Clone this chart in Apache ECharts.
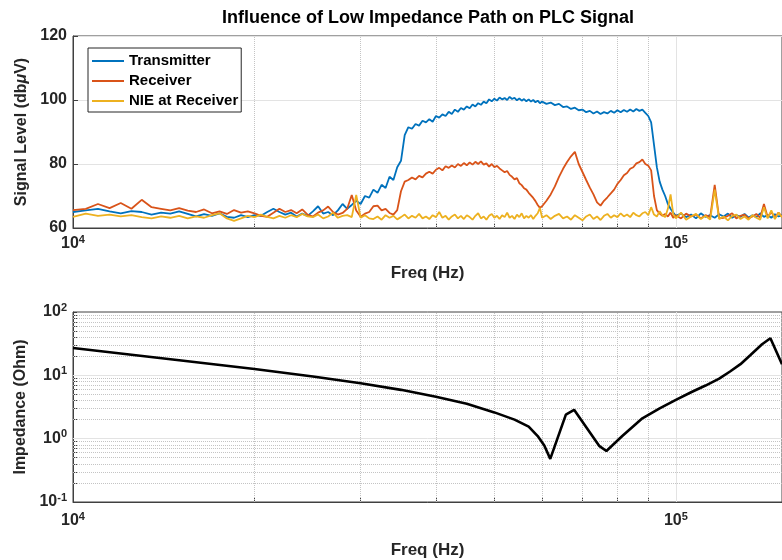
<!DOCTYPE html>
<html><head><meta charset="utf-8">
<script src="https://cdn.jsdelivr.net/npm/echarts@6/dist/echarts.min.js"></script>
<style>html,body{margin:0;padding:0;background:#fff}#c{width:782px;height:560px}</style>
</head><body><div id="c"></div>
<script>
// ---- data ----
const freq = [
  10000,10500,11000,11500,12000,12500,13000,13500,14000,14500,
  15000,15500,16000,16500,17000,17500,18000,18500,19000,19500,
  20000,20500,21000,21500,22000,22500,23000,23500,24000,24500,
  25000,25500,26000,26500,27000,27500,28000,28500,29000,29500,
  30000,30500,31000,31500,32000,32500,33000,33500,34000,34500,
  35000,35500,36000,36500,37000,37500,38000,38500,39000,39500,
  40000,40500,41000,41500,42000,42500,43000,43500,44000,44500,
  45000,45500,46000,46500,47000,47500,48000,48500,49000,49500,
  50000,50500,51000,51500,52000,52500,53000,53500,54000,54500,
  55000,55500,56000,56500,57000,57500,58000,58500,59000,59500,
  60000,61000,62000,63000,64000,65000,66000,67000,68000,69000,
  70000,71000,72000,73000,74000,75000,76000,77000,78000,79000,
  80000,81000,82000,83000,84000,85000,86000,87000,88000,89000,
  90000,91000,92000,93000,94000,95000,96000,97000,98000,99000,
  100000,102000,104000,106000,108000,110000,112000,114000,116000,118000,
  120000,122000,124000,126000,128000,130000,132000,134000,136000,138000,
  140000,142000,144000,146000,148000,150000
];
const transmitter = [
  65.0,65.5,66.0,65.2,64.6,65.3,65.0,64.2,64.8,64.5,
  65.2,64.4,63.6,64.3,63.8,64.6,63.5,63.2,64.0,63.4,
  64.0,63.8,65.0,66.0,65.0,64.2,64.8,63.6,64.5,63.8,
  65.2,66.8,64.5,65.0,64.0,65.5,67.5,66.0,67.2,68.5,
  67.5,70.0,69.5,72.0,71.0,73.5,72.5,76.0,75.0,79.0,
  81.0,89.0,91.5,91.0,92.5,92.0,93.5,93.0,94.0,93.2,
  95.0,94.5,95.5,95.0,96.3,95.6,97.0,96.3,97.5,97.0,
  98.0,97.4,98.6,98.0,99.0,98.5,99.5,99.0,100.2,99.6,
  100.4,99.8,100.8,100.2,100.6,100.0,101.0,100.3,100.7,99.9,
  100.5,99.8,100.3,99.6,100.2,99.5,100.0,99.3,99.8,99.0,
  99.5,98.8,99.2,98.4,98.8,97.8,98.0,97.2,97.6,96.8,
  97.0,96.2,96.6,95.8,96.4,95.6,96.2,95.8,96.6,96.0,
  96.8,96.2,96.9,96.3,97.0,96.4,97.2,96.6,97.0,96.0,
  95.0,93.0,86.0,79.0,74.5,72.0,70.0,67.5,66.0,64.8,
  63.8,64.5,63.4,64.2,63.0,64.6,63.5,64.0,63.2,64.3,
  63.6,64.5,63.2,64.0,63.5,64.4,63.3,64.0,63.4,64.6,
  63.5,64.0,63.2,64.3,63.6,64.0
];
const receiver = [
  65.6,66.0,67.5,66.2,67.8,66.0,68.8,66.5,66.0,65.5,
  66.2,65.4,65.0,65.8,64.6,65.2,64.4,65.6,64.8,65.2,
  64.6,63.8,63.5,64.8,66.0,65.0,65.6,64.6,65.8,64.2,
  63.6,64.8,65.5,66.7,65.0,64.2,64.7,66.0,70.3,65.5,
  63.5,64.5,65.0,66.8,67.0,65.5,66.0,64.7,64.2,65.6,
  71.5,74.5,75.0,75.8,75.2,76.3,75.8,77.0,77.6,77.0,
  78.2,78.8,78.0,79.3,78.8,79.5,78.9,80.0,79.4,80.3,
  79.6,80.5,79.8,80.7,80.0,80.8,79.8,80.2,79.2,80.0,
  79.0,79.4,78.6,78.0,77.4,77.8,76.6,76.0,75.2,75.6,
  74.0,73.4,72.4,72.0,71.0,70.2,69.4,68.4,67.2,66.3,
  66.8,68.5,70.5,73.0,76.0,78.5,80.6,82.4,83.8,80.0,
  77.5,75.0,72.6,70.5,68.0,67.0,68.5,69.6,70.8,72.0,
  73.8,75.0,76.5,77.2,78.5,79.0,80.2,80.6,81.4,80.0,
  79.5,78.0,70.0,65.6,64.5,63.8,64.4,63.6,64.8,63.2,
  64.0,63.0,64.5,63.6,64.2,63.0,64.0,63.4,73.5,63.0,
  63.2,63.8,64.6,63.0,63.8,64.2,63.0,63.6,64.4,63.2,
  67.5,63.4,65.0,63.3,64.8,63.5
];
const nie = [
  63.5,64.5,63.8,64.2,63.6,64.0,63.4,63.0,63.6,63.2,
  63.8,63.0,63.6,63.2,64.0,64.6,63.0,62.2,63.0,63.8,
  63.4,64.2,63.5,63.0,63.8,63.2,64.0,63.4,64.4,63.6,
  63.4,64.2,63.0,63.6,64.8,63.2,63.8,64.0,63.4,70.3,
  63.2,64.0,63.0,62.8,63.6,62.6,64.0,63.2,63.8,62.7,
  63.4,64.2,63.0,63.8,63.2,64.4,63.0,63.6,62.8,64.0,
  63.4,65.0,63.2,63.8,62.6,63.6,64.2,63.0,63.8,62.8,
  64.0,63.4,62.6,63.8,64.6,63.0,63.6,62.6,63.8,64.4,
  63.2,63.8,62.8,64.0,63.4,64.8,63.2,63.8,62.8,64.2,
  63.4,64.6,63.0,63.8,63.2,64.0,62.8,63.8,64.6,66.3,
  63.2,64.0,62.8,63.8,64.4,63.0,63.6,62.6,64.0,63.2,
  62.4,63.6,64.2,62.8,63.6,62.5,63.8,64.4,63.2,64.0,
  63.4,64.6,63.6,64.2,63.4,64.8,64.0,63.6,64.6,65.0,
  64.0,66.5,64.2,63.6,65.2,64.0,63.4,66.0,70.5,64.4,
  63.0,64.8,62.6,63.6,64.4,62.8,63.8,62.6,72.0,62.8,
  63.6,62.4,63.8,64.2,62.8,63.6,62.6,64.0,63.2,62.6,
  66.5,63.0,65.5,62.8,64.8,63.4
];
const impFreq = [10000,15000,20000,25000,30000,35000,40000,45000,50000,54000,57000,59000,60500,61900,65700,67800,74600,76700,81500,88000,94000,100000,106000,112000,118000,123000,128000,133000,139000,143500,150000];
const impedance = [27,17.3,12.6,9.6,7.5,5.9,4.6,3.55,2.6,2.0,1.55,1.1,0.78,0.48,2.4,2.85,0.77,0.64,1.1,2.1,3.0,4.1,5.4,6.9,8.9,11.5,15,21,31,38.5,15];

const seriesNames = ['Transmitter','Receiver','NIE at Receiver'];
const titleText = 'Influence of Low Impedance Path on PLC Signal';
const xTickValues = [10000,20000,30000,40000,50000,60000,70000,80000,90000,100000];
const xMinorGrid = [20000,30000,40000,50000,60000,70000,80000,90000];
const xMajorGrid = [100000];
const xLabelValues = [10000,100000];
const yLogTicks = [0.1,0.2,0.3,0.4,0.5,0.6,0.7,0.8,0.9,1,2,3,4,5,6,7,8,9,10,20,30,40,50,60,70,80,90,100];
const yMinorGrid = [0.2,0.3,0.4,0.5,0.6,0.7,0.8,0.9,2,3,4,5,6,7,8,9,20,30,40,50,60,70,80,90];
const yMajorGrid = [1,10];
const yLogLabels = [0.1,1,10,100];

// ---- styles ----
const FONT = '"Liberation Sans", Arial, Helvetica, sans-serif';
const AX = '#404040';
const TXT = '#262626';
const colors = ['#0072BD','#D95319','#EDB120'];
const powRich = {
  b:{fontSize:16,fontWeight:'bold',fontFamily:FONT,color:TXT},
  s:{fontSize:11,fontWeight:'bold',fontFamily:FONT,color:TXT,padding:[0,0,9,0]}
};
function powLabel(v){ const e = Math.round(Math.log10(v)); return '{b|10}{s|' + e + '}'; }
const nameStyle = {fontSize:16,fontWeight:'bold',fontFamily:FONT,color:TXT};
const xNameStyle = {fontSize:17,fontWeight:'bold',fontFamily:FONT,color:TXT};
const dotted = {type:'dotted',color:'#c4c4c4',width:1};
const solidGrid = {type:'solid',color:'#e3e3e3',width:1};

function logX(gridIndex, nameGap, margin){
  return {
    type:'log', logBase:10, gridIndex, min:10000, max:150000,
    axisLine:{show:true,onZero:false,lineStyle:{color:AX,width:1}},
    axisTick:{show:true,inside:true,length:5,customValues:xTickValues,lineStyle:{color:AX}},
    minorTick:{show:false}, splitLine:{show:false}, minorSplitLine:{show:false},
    axisLabel:{show:true,customValues:xLabelValues,formatter:powLabel,rich:powRich,margin:margin,hideOverlap:false},
    name:'Freq (Hz)', nameLocation:'middle', nameGap:nameGap, nameTextStyle:xNameStyle
  };
}
function ml(items){
  return {silent:true,z:1,symbol:['none','none'],label:{show:false},animation:false,
          emphasis:{disabled:true},lineStyle:dotted,data:items};
}

const topGridLines = xMinorGrid.map(v=>({xAxis:v}))
  .concat(xMajorGrid.map(v=>({xAxis:v,lineStyle:solidGrid})));
const botGridLines = xMinorGrid.map(v=>({xAxis:v}))
  .concat(yMinorGrid.map(v=>({yAxis:v})))
  .concat(xMajorGrid.map(v=>({xAxis:v,lineStyle:solidGrid})))
  .concat(yMajorGrid.map(v=>({yAxis:v,lineStyle:solidGrid})));

const sigData = [transmitter, receiver, nie];
const option = {
  animation:false,
  backgroundColor:'#fff',
  textStyle:{fontFamily:FONT},
  title:{text:titleText,left:423,top:4,textAlign:'center',
         textStyle:{fontSize:18,fontWeight:'bold',color:'#000',fontFamily:FONT}},
  legend:{data:seriesNames,orient:'vertical',left:88,top:48,padding:[3,3,1,4],
          icon:'rect',itemWidth:32,itemHeight:2,itemGap:0,borderColor:TXT,borderWidth:1,borderRadius:0,
          backgroundColor:'#fff',
          textStyle:{fontSize:15,lineHeight:20,fontWeight:'bold',fontFamily:FONT,color:'#000'}},
  grid:[
    {left:73,top:36,width:710,height:192,show:true,borderColor:AX,borderWidth:1,backgroundColor:'transparent'},
    {left:73,top:312,width:710,height:191,show:true,borderColor:AX,borderWidth:1,backgroundColor:'transparent'}
  ],
  xAxis:[ logX(0,37,6), logX(1,40,9) ],
  yAxis:[
    {type:'value',gridIndex:0,min:60,max:120,interval:20,
     axisLine:{show:true,onZero:false,lineStyle:{color:AX}},
     axisTick:{show:true,inside:true,length:5,lineStyle:{color:AX}},
     axisLabel:{fontSize:16,fontWeight:'bold',fontFamily:FONT,color:TXT,margin:6},
     splitLine:{show:true,lineStyle:solidGrid},
     name:'{n|Signal Level (db}{m|μ}{n|V)}',nameLocation:'middle',nameGap:40,
     nameTextStyle:{rich:{n:nameStyle,m:Object.assign({},nameStyle,{fontStyle:'italic'})}}},
    {type:'log',logBase:10,gridIndex:1,min:0.1,max:100,
     axisLine:{show:true,onZero:false,lineStyle:{color:AX}},
     axisTick:{show:true,inside:true,length:4,customValues:yLogTicks,lineStyle:{color:AX}},
     minorTick:{show:false}, splitLine:{show:false}, minorSplitLine:{show:false},
     axisLabel:{customValues:yLogLabels,formatter:powLabel,rich:powRich,margin:6,hideOverlap:false},
     name:'Impedance (Ohm)',nameLocation:'middle',nameGap:41,nameTextStyle:nameStyle}
  ],
  series:[
    {type:'line',xAxisIndex:0,yAxisIndex:0,data:[],z:1,silent:true,markLine:ml(topGridLines)},
    {type:'line',xAxisIndex:1,yAxisIndex:1,data:[],z:1,silent:true,markLine:ml(botGridLines)}
  ].concat(seriesNames.map((n,k)=>({
    name:n,type:'line',xAxisIndex:0,yAxisIndex:0,z:3,symbol:'none',showSymbol:false,
    data:freq.map((f,i)=>[f,sigData[k][i]]),
    lineStyle:{width:1.8,color:colors[k]},itemStyle:{color:colors[k]}
  }))).concat([
    {name:'Impedance',type:'line',xAxisIndex:1,yAxisIndex:1,z:3,symbol:'none',showSymbol:false,
     data:impFreq.map((f,i)=>[f,impedance[i]]),
     lineStyle:{width:2.6,color:'#000'},itemStyle:{color:'#000'}}
  ])
};
const chart = echarts.init(document.getElementById('c'),null,{renderer:'canvas'});
chart.setOption(option);
</script></body></html>
